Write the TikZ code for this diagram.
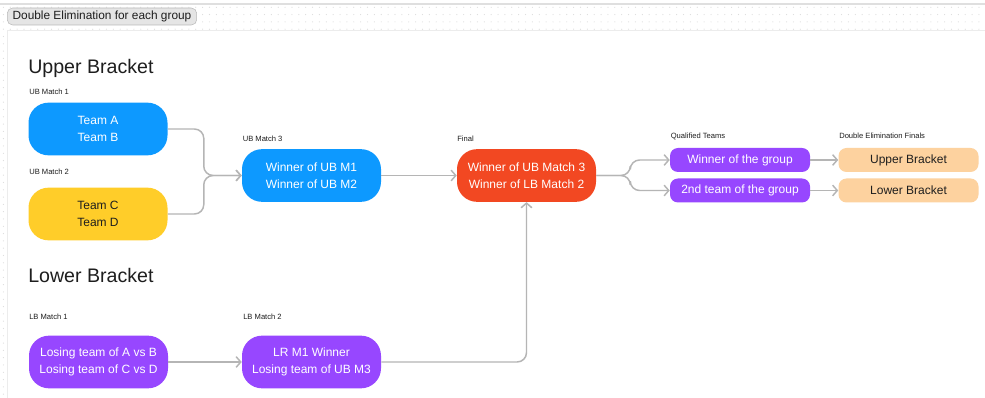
\documentclass[tikz,border=0pt]{standalone}
\usepackage{fontspec}
\setmainfont{Liberation Sans}
\usetikzlibrary{arrows.meta}

\definecolor{ubblue}{HTML}{0D99FF}
\definecolor{teamyellow}{HTML}{FFCD29}
\definecolor{finalred}{HTML}{F24822}
\definecolor{lbpurple}{HTML}{9747FF}
\definecolor{peach}{HTML}{FDD29F}
\definecolor{textdark}{HTML}{1E1E1E}
\definecolor{linegray}{HTML}{B5B5B5}
\definecolor{dotgray}{HTML}{DCDCDC}

\begin{document}
\begin{tikzpicture}[x=0.75pt,y=-0.75pt,
        box/.style={rounded corners=15pt,minimum width=104.25pt,minimum height=39.5pt,inner sep=0pt,
            align=center,text=white,font=\fontsize{9}{12.75}\selectfont},
        pill/.style={rounded corners=6pt,minimum width=105pt,minimum height=18pt,inner sep=0pt,
            align=center,text=white,font=\fontsize{9}{11}\selectfont},
        matchlabel/.style={font=\fontsize{5.7}{7}\selectfont,text=textdark,anchor=base west,inner sep=0pt},
        heading/.style={font=\fontsize{14.7}{17}\selectfont,text=textdark,anchor=base west,inner sep=0pt},
        conn/.style={draw=linegray,line width=1.1pt,rounded corners=7pt,
            -{Straight Barb[length=3.5pt,width=8pt]}}]

    \useasboundingbox (0,0) rectangle (985,398);

    % canvas
    \draw[gray!25,line width=0.8pt] (0,4) -- (985,4);
    \foreach \i in {0,...,142}
        \foreach \j in {0,...,3}
            \fill[dotgray] (3.4+6.87*\i,7.3+7.3*\j) circle (0.45pt);
    \foreach \j in {4,...,53}
        \fill[dotgray] (3.4,7.3+7.3*\j) circle (0.45pt);
    \path[fill=white,draw=gray!15] (7,30) rectangle (990,402);

    \node[draw=gray!55,fill=gray!20,rounded corners=4pt,inner xsep=4pt,inner ysep=0pt,
        minimum height=12.75pt,anchor=west,font=\fontsize{8.9}{10}\selectfont,text=textdark]
        (tag) at (7,16.5) {Double Elimination for each group};

    \node[heading] (upper) at (28,74) {Upper Bracket};
    \node[heading] (lower) at (28,283) {Lower Bracket};

    % upper bracket
    \node[box,fill=ubblue] (ab) at (98,129) {Team A\\Team B};
    \node[box,fill=teamyellow,text=textdark] (cd) at (98,214) {Team C\\Team D};
    \node[box,fill=ubblue] (ubm3) at (311.5,175.5) {Winner of UB M1\\Winner of UB M2};
    \node[box,fill=finalred] (final) at (526.5,175.5) {Winner of UB Match 3\\Winner of LB Match 2};

    % qualified teams and finals
    \node[pill,fill=lbpurple] (first) at (740,160) {Winner of the group};
    \node[pill,fill=lbpurple] (second) at (740,190.5) {2nd team of the group};
    \node[pill,fill=peach,text=textdark] (ubfinal) at (908.5,160) {Upper Bracket};
    \node[pill,fill=peach,text=textdark] (lbfinal) at (908.5,190.5) {Lower Bracket};

    % lower bracket
    \node[box,fill=lbpurple] (lbm1) at (98.5,362) {Losing team of A vs B\\Losing team of C vs D};
    \node[box,fill=lbpurple] (lbm2) at (311.5,362) {LR M1 Winner\\Losing team of UB M3};

    \node[matchlabel] at (29,95) {UB Match 1};
    \node[matchlabel] at (29,175) {UB Match 2};
    \node[matchlabel] at (242.5,141.5) {UB Match 3};
    \node[matchlabel] at (457,141.5) {Final};
    \node[matchlabel] at (670.5,138.5) {Qualified Teams};
    \node[matchlabel] at (839,138.5) {Double Elimination Finals};
    \node[matchlabel] at (29,320) {LB Match 1};
    \node[matchlabel] at (243,320) {LB Match 2};

    \draw[conn] (ab.east) -- ++(36,0) |- (ubm3.west);
    \draw[conn] (cd.east) -- ++(36,0) |- (ubm3.west);
    \draw[conn] (ubm3) -- (final);
    \draw[conn] (final.east) -- ++(34,0) |- (first.west);
    \draw[conn] (final.east) -- ++(34,0) |- (second.west);
    \draw[conn] (first) -- (ubfinal);
    \draw[conn] (second) -- (lbfinal);
    \draw[conn] (lbm1) -- (lbm2);
    \draw[conn] (lbm2.east) -| (final.south);
\end{tikzpicture}
\end{document}
